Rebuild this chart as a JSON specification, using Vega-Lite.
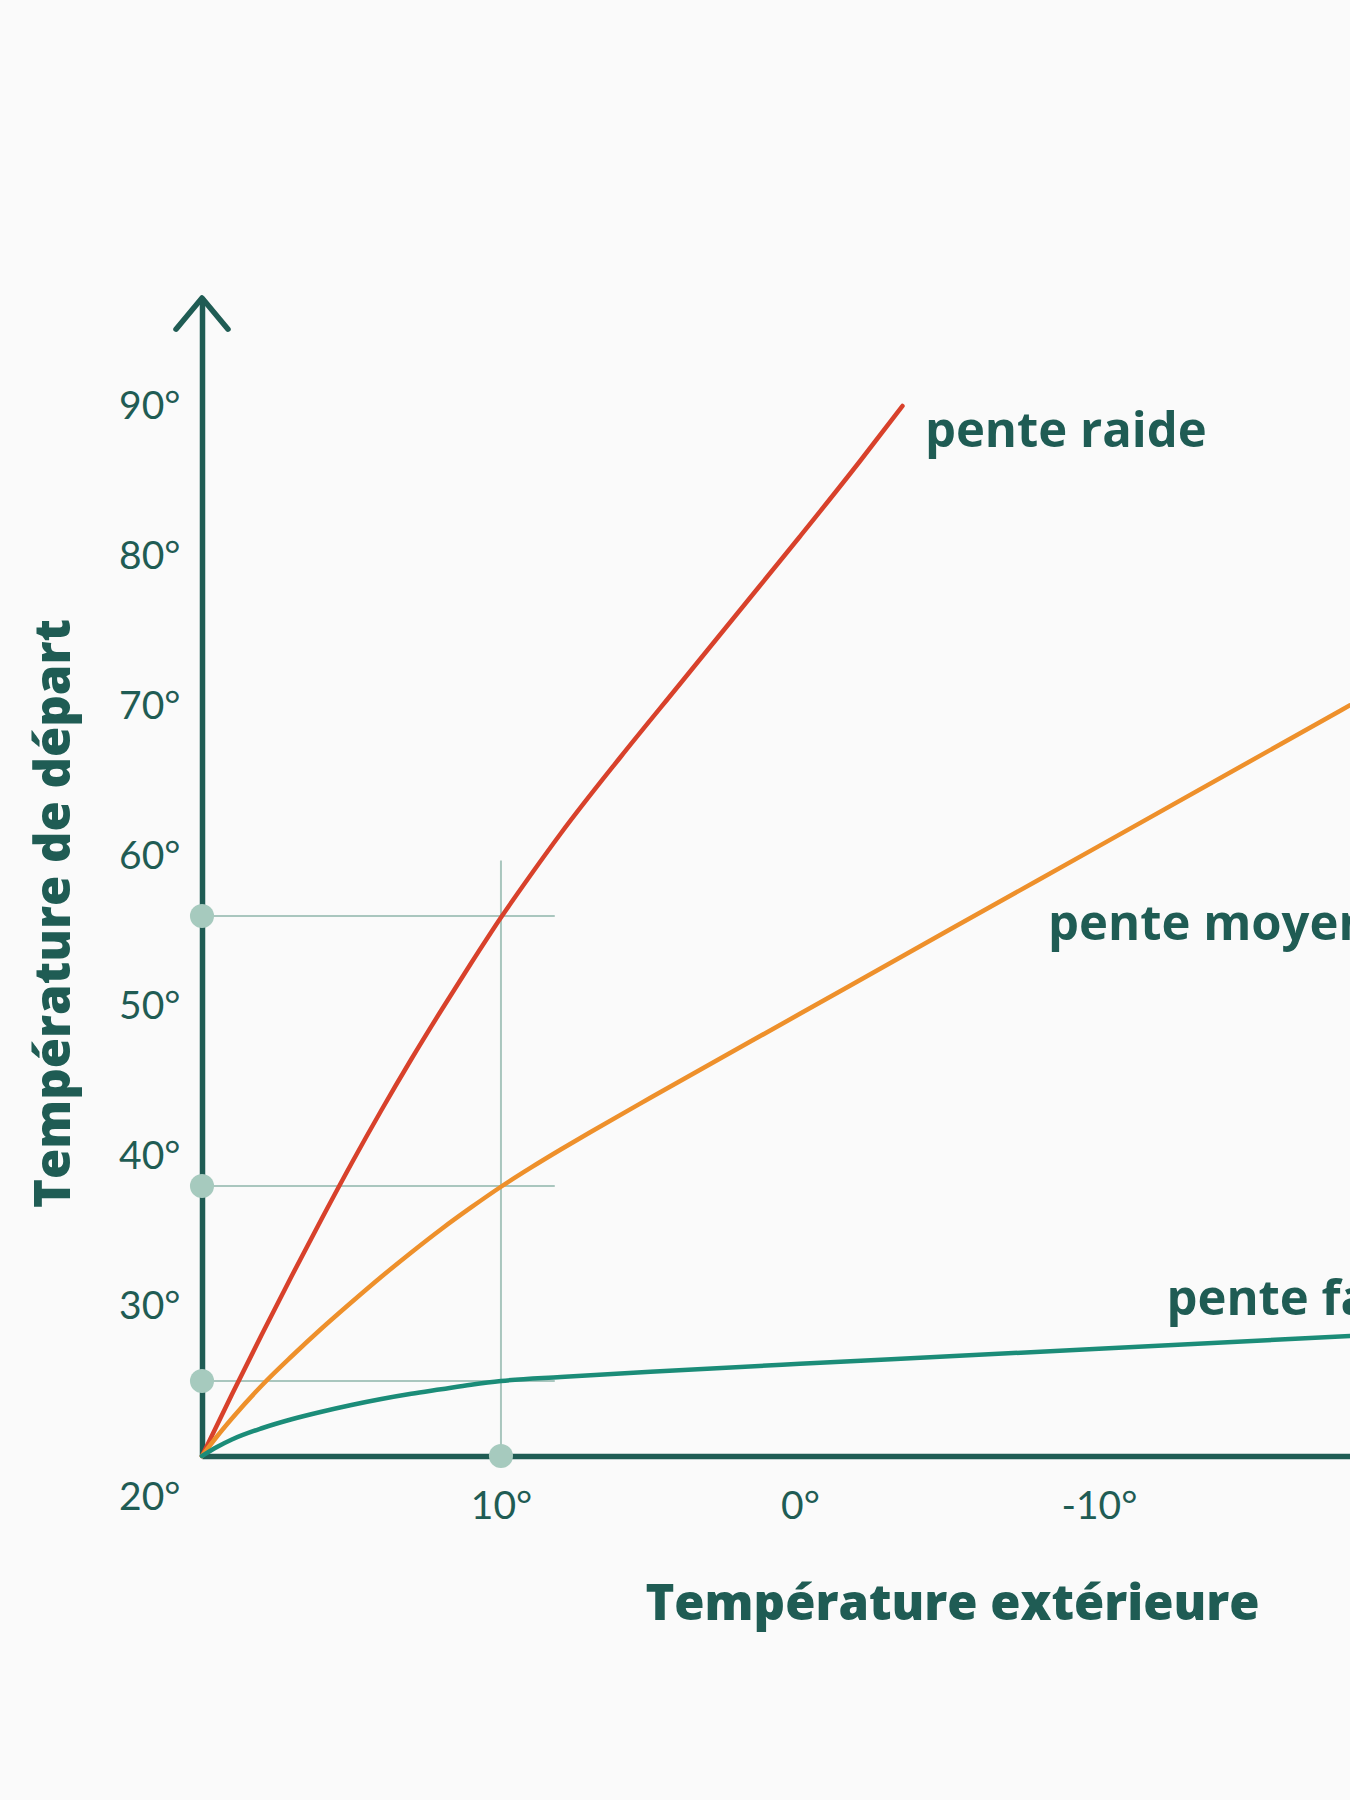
{
  "$schema": "https://vega.github.io/schema/vega-lite/v6.json",
  "width": 1148,
  "height": 1158,
  "autosize": {"type": "none"},
  "padding": {"left": 202, "top": 298, "right": 0, "bottom": 344},
  "background": "#fafafa",
  "config": {"view": {"stroke": null}},
  "datasets": {
    "curves": [
      {"series": "raide", "t": 20, "v": 20},
      {"series": "raide", "t": 19, "v": 24.1},
      {"series": "raide", "t": 18, "v": 28.1},
      {"series": "raide", "t": 17, "v": 32.0},
      {"series": "raide", "t": 16, "v": 35.8},
      {"series": "raide", "t": 15, "v": 39.5},
      {"series": "raide", "t": 14, "v": 43.05},
      {"series": "raide", "t": 13, "v": 46.45},
      {"series": "raide", "t": 12, "v": 49.7},
      {"series": "raide", "t": 11, "v": 52.85},
      {"series": "raide", "t": 10, "v": 55.9},
      {"series": "raide", "t": 9, "v": 58.75},
      {"series": "raide", "t": 8, "v": 61.5},
      {"series": "raide", "t": 6, "v": 66.6},
      {"series": "raide", "t": 4, "v": 71.5},
      {"series": "raide", "t": 2, "v": 76.4},
      {"series": "raide", "t": 0, "v": 81.3},
      {"series": "raide", "t": -2, "v": 86.3},
      {"series": "raide", "t": -3.43, "v": 90},
      {"series": "moyenne", "t": 20, "v": 20},
      {"series": "moyenne", "t": 19.5, "v": 21.3},
      {"series": "moyenne", "t": 19, "v": 22.5},
      {"series": "moyenne", "t": 18, "v": 24.7},
      {"series": "moyenne", "t": 17, "v": 26.65},
      {"series": "moyenne", "t": 16, "v": 28.5},
      {"series": "moyenne", "t": 15, "v": 30.25},
      {"series": "moyenne", "t": 14, "v": 31.95},
      {"series": "moyenne", "t": 13, "v": 33.57},
      {"series": "moyenne", "t": 12, "v": 35.12},
      {"series": "moyenne", "t": 11, "v": 36.57},
      {"series": "moyenne", "t": 10, "v": 37.95},
      {"series": "moyenne", "t": 9, "v": 39.22},
      {"series": "moyenne", "t": 8, "v": 40.43},
      {"series": "moyenne", "t": 7, "v": 41.6},
      {"series": "moyenne", "t": 5, "v": 43.88},
      {"series": "moyenne", "t": 0, "v": 49.48},
      {"series": "moyenne", "t": -5, "v": 55.08},
      {"series": "moyenne", "t": -10, "v": 60.66},
      {"series": "moyenne", "t": -18.4, "v": 70.05},
      {"series": "faible", "t": 20, "v": 20},
      {"series": "faible", "t": 19.5, "v": 20.6},
      {"series": "faible", "t": 19, "v": 21.1},
      {"series": "faible", "t": 18, "v": 21.85},
      {"series": "faible", "t": 17, "v": 22.45},
      {"series": "faible", "t": 16, "v": 22.95},
      {"series": "faible", "t": 15, "v": 23.4},
      {"series": "faible", "t": 14, "v": 23.8},
      {"series": "faible", "t": 13, "v": 24.15},
      {"series": "faible", "t": 12, "v": 24.45},
      {"series": "faible", "t": 11, "v": 24.75},
      {"series": "faible", "t": 10, "v": 25.0},
      {"series": "faible", "t": 8, "v": 25.27},
      {"series": "faible", "t": 5, "v": 25.62},
      {"series": "faible", "t": 0, "v": 26.15},
      {"series": "faible", "t": -5, "v": 26.65},
      {"series": "faible", "t": -10, "v": 27.15},
      {"series": "faible", "t": -18.4, "v": 28.0}
    ],
    "guides": [
      {"t": 20, "t2": 8.2, "v": 56, "v2": 56},
      {"t": 20, "t2": 8.2, "v": 38, "v2": 38},
      {"t": 20, "t2": 8.2, "v": 25, "v2": 25},
      {"t": 10, "t2": 10, "v": 20, "v2": 59.7}
    ],
    "dots": [
      {"t": 20, "v": 56},
      {"t": 20, "v": 38},
      {"t": 20, "v": 25},
      {"t": 10, "v": 20}
    ],
    "labels": [
      {"label": "pente raide", "t": -4.18, "v": 87.27},
      {"label": "pente moyenne", "t": -8.3, "v": 54.4},
      {"label": "pente faible", "t": -12.26, "v": 29.38}
    ],
    "arrow": [
      {"t": 20, "v": 97.2}
    ]
  },
  "encoding": {
    "x": {
      "field": "t",
      "type": "quantitative",
      "scale": {"domain": [-18.4, 20], "reverse": true, "nice": false, "zero": false},
      "axis": {
        "title": "Température extérieure",
        "values": [10, 0, -10],
        "labelExpr": "datum.value + '°'",
        "grid": false,
        "ticks": false,
        "tickSize": 0,
        "domainColor": "#1f5c54",
        "domainWidth": 5.5,
        "labelFont": "Lato",
        "labelFontSize": 39,
        "labelFontWeight": 400,
        "labelColor": "#1f5c54",
        "labelPadding": 50,
        "labelBaseline": "middle",
        "labelOverlap": false,
        "labelFlush": false,
        "titleFont": "Open Sans",
        "titleFontSize": 49,
        "titleFontWeight": 800,
        "titleColor": "#1f5c54",
        "titleX": 750,
        "titleY": 163,
        "titleBaseline": "alphabetic",
        "titleAlign": "center"
      }
    },
    "y": {
      "field": "v",
      "type": "quantitative",
      "scale": {"domain": [20, 97.2], "nice": false, "zero": false},
      "axis": {
        "title": "Température de départ",
        "values": [20, 30, 40, 50, 60, 70, 80, 90],
        "labelExpr": "datum.value + '°'",
        "grid": false,
        "ticks": false,
        "tickSize": 0,
        "domainColor": "#1f5c54",
        "domainWidth": 5.5,
        "labelFont": "Lato",
        "labelFontSize": 39,
        "labelFontWeight": 400,
        "labelColor": "#1f5c54",
        "labelPadding": 22,
        "labelOverlap": false,
        "labelFlush": false,
        "labelOffset": {"condition": {"test": "datum.value == 20", "value": 41}, "value": 0},
        "titleFont": "Open Sans",
        "titleFontSize": 49,
        "titleFontWeight": 800,
        "titleColor": "#1f5c54",
        "titleX": -148,
        "titleY": 615,
        "titleAngle": -90,
        "titleBaseline": "middle",
        "titleAlign": "center"
      }
    }
  },
  "layer": [
    {
      "data": {"name": "guides"},
      "mark": {"type": "rule", "color": "#a9c6be", "strokeWidth": 2},
      "encoding": {
        "x2": {"field": "t2"},
        "y2": {"field": "v2"}
      }
    },
    {
      "data": {"name": "curves"},
      "mark": {"type": "line", "interpolate": "monotone", "strokeWidth": 4.5, "strokeCap": "round"},
      "encoding": {
        "color": {
          "field": "series",
          "type": "nominal",
          "scale": {"domain": ["raide", "moyenne", "faible"], "range": ["#d8412b", "#ee902b", "#1b8c78"]},
          "legend": null
        }
      }
    },
    {
      "data": {"name": "dots"},
      "mark": {"type": "point", "filled": true, "size": 580, "color": "#a6cabe", "opacity": 1}
    },
    {
      "data": {"name": "arrow"},
      "mark": {"type": "point", "filled": false, "shape": "M-1,1.2L0,0L1,1.2", "size": 2704, "stroke": "#1f5c54", "strokeWidth": 5.5, "strokeCap": "round", "strokeJoin": "round", "opacity": 1}
    },
    {
      "data": {"name": "labels"},
      "mark": {"type": "text", "align": "left", "baseline": "alphabetic", "font": "Open Sans", "fontSize": 49, "fontWeight": "bold", "color": "#1f5c54"},
      "encoding": {
        "text": {"field": "label"}
      }
    }
  ]
}
